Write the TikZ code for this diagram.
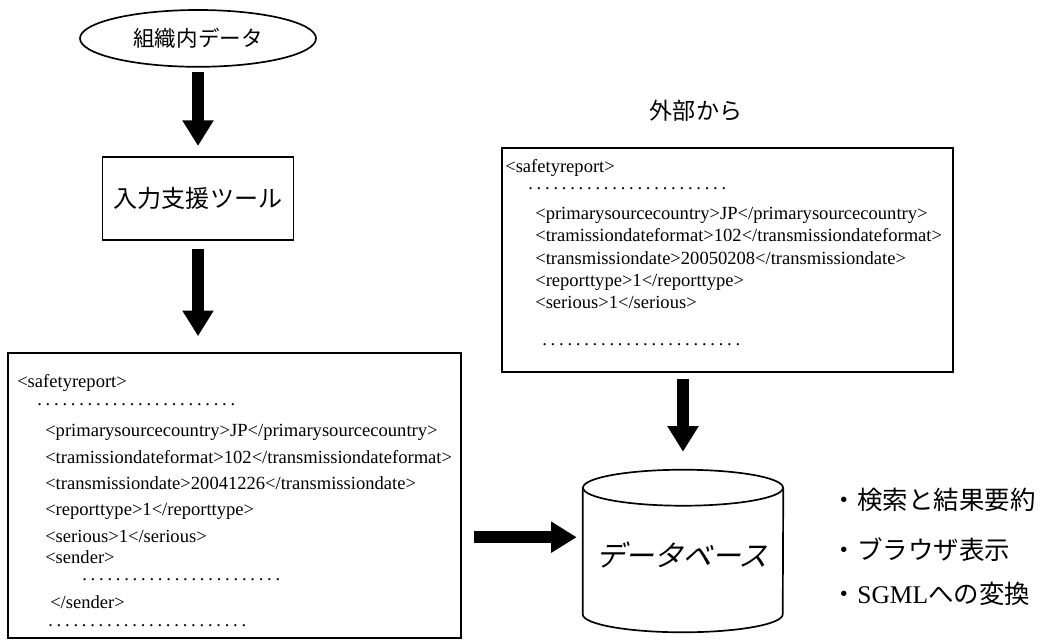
\documentclass[tikz,border=0pt]{standalone}
\usepackage{fontspec}
\setmainfont{Liberation Serif}
\newfontfamily\cjk{Noto Sans CJK JP}
\usetikzlibrary{arrows.meta,positioning,shapes.geometric}

\newcommand{\dotrow}{\foreach \k in {1,...,24}{.\hspace{2.68pt}}}

\begin{document}
\begin{tikzpicture}[
    frame/.style={draw, line width=1.2pt, inner sep=0pt},
    xml/.style={anchor=north west, inner sep=0pt, align=left, font=\fontsize{13.2}{18.8}\selectfont},
    jp/.style={font={\cjk\fontsize{#1}{#1}\selectfont}},
    fat/.style={line width=0.3cm, -{Triangle[width=0.74cm,length=0.64cm]}}
]
    \useasboundingbox (0,0) rectangle (26.125,-16.075);

    \node[frame, ellipse, minimum width=5.9cm, minimum height=1.42cm, jp=15.3] (inner) at (4.95,-0.96) {組織内データ};
    \node[frame, minimum width=4.78cm, minimum height=2.08cm, jp=17.1] (tool) at (4.95,-4.96) {入力支援ツール};
    \node[frame, minimum width=11.33cm, minimum height=7.13cm] (local) at (5.86,-12.39) {};
    \node[xml] (localxml) at (0.425,-9.36) {<safetyreport>\\[-6pt]
        \hspace*{0.5cm}\dotrow\\[3.2pt]
        \hspace*{0.7cm}<primarysourcecountry>JP</primarysourcecountry>\\
        \hspace*{0.7cm}<tramissiondateformat>102</transmissiondateformat>\\
        \hspace*{0.7cm}<transmissiondate>20041226</transmissiondate>\\
        \hspace*{0.7cm}<reporttype>1</reporttype>\\
        \hspace*{0.7cm}<serious>1</serious>\\[-3.9pt]
        \hspace*{0.7cm}<sender>\\[-6.8pt]
        \hspace*{1.625cm}\dotrow\\[1.1pt]
        \hspace*{0.825cm}</sender>\\[-6pt]
        \hspace*{0.775cm}\dotrow};

    \node[jp=16.4] (outside) at (17.4,-2.78) {外部から};
    \node[frame, minimum width=11.28cm, minimum height=5.6cm] (remote) at (18.19,-6.5) {};
    \node[xml, font=\fontsize{13.2}{15.85}\selectfont] (remotexml) at (12.625,-3.985) {<safetyreport>\\[-3.8pt]
        \hspace*{0.575cm}\dotrow\\[5.5pt]
        \hspace*{0.75cm}<primarysourcecountry>JP</primarysourcecountry>\\
        \hspace*{0.75cm}<tramissiondateformat>102</transmissiondateformat>\\
        \hspace*{0.75cm}<transmissiondate>20050208</transmissiondate>\\
        \hspace*{0.75cm}<reporttype>1</reporttype>\\
        \hspace*{0.75cm}<serious>1</serious>\\[10.5pt]
        \hspace*{0.925cm}\dotrow};

    % database drum
    \node[minimum width=5cm, minimum height=3.15cm, inner sep=0pt] (db) at (17.075,-13.775) {};
    \draw[line width=1.2pt] (db.north west) -- (db.south west)
        arc[start angle=180, end angle=360, x radius=2.5cm, y radius=0.45cm] -- (db.north east);
    \draw[line width=1.2pt] (db.north) ellipse[x radius=2.5cm, y radius=0.45cm];
    \node[jp=20.6, xslant=0.3, transform shape] (dbname) at (17.125,-13.875) {データベース};

    \node[jp=18.1, anchor=west] (search) at (20.675,-12.5) {・検索と結果要約};
    \node[jp=18.1, anchor=west] (browse) at (20.675,-13.75) {・ブラウザ表示};
    \node[jp=18.1, anchor=west] (sgml) at (20.675,-14.85) {・{\rmfamily SGML}への変換};

    \draw[fat, shorten <=0.12cm, shorten >=0.25cm] (inner.south) -- (tool.north);
    \draw[fat, shorten <=0.2cm, shorten >=0.4cm] (tool.south) -- (tool.south |- local.north);
    \draw[fat, shorten <=0.15cm, shorten >=0.9cm] (db.north |- remote.south) -- (db.north);
    \draw[fat, shorten <=0.3cm, shorten >=0.15cm] ([yshift=-1.04cm]local.east) -- ([yshift=-1.04cm]local.east -| db.west);
\end{tikzpicture}
\end{document}
